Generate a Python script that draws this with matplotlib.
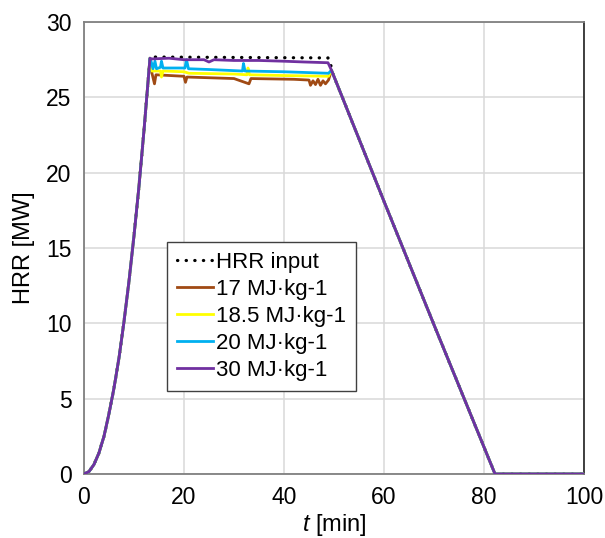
import matplotlib
matplotlib.use("Agg")
import matplotlib.pyplot as plt

plt.rcParams['font.family'] = ['Liberation Sans', 'DejaVu Sans']
plt.rcParams['mathtext.fontset'] = 'custom'
plt.rcParams['mathtext.it'] = 'Liberation Sans:italic'
plt.rcParams['mathtext.rm'] = 'Liberation Sans'

# growth phase (shared by all curves), min / MW
ramp_t = [0, 1, 2, 3, 4, 5, 6, 7, 8, 9, 10, 11, 12, 13.2]
ramp_v = [0, 0.16, 0.63, 1.4, 2.5, 4.0, 5.7, 7.7, 10.1, 12.8, 15.8, 19.1, 22.8, 27.6]

# decay phase (shared)
decay_t = [49.5, 60, 70, 82.2, 100]
decay_v = [26.8, 18.1, 9.9, 0, 0]

# plateau readings per case
input_t = [13.4, 48.8, 49.3]
input_v = [27.68, 27.62, 27.35]

mj30_t = [13.4, 17, 20, 24, 25, 26, 30, 35, 40, 44, 48.8]
mj30_v = [27.55, 27.6, 27.5, 27.5, 27.35, 27.5, 27.45, 27.45, 27.4, 27.35, 27.3]

mj20_t = [13.5, 13.8, 14.2, 14.5, 15.3, 15.5, 15.8, 20.2, 20.5, 20.9, 25, 31.7, 31.9, 32.2, 40, 48.9]
mj20_v = [27.3, 26.9, 27.4, 26.9, 27.0, 27.4, 26.95, 26.95, 27.5, 26.9, 26.85, 26.75, 27.25, 26.75, 26.7, 26.6]

mj185_t = [13.6, 15.3, 15.5, 15.8, 20, 21, 30, 32.6, 32.8, 33.1, 40, 48.9]
mj185_v = [26.75, 26.75, 26.35, 26.75, 26.7, 26.6, 26.55, 26.5, 26.95, 26.5, 26.45, 26.4]

mj17_t = [13.6, 14.1, 14.4, 20, 20.3, 20.6, 30, 33.0, 33.4, 42, 45.0, 45.3, 45.8, 46.3, 46.8, 47.3, 47.8, 48.3, 48.9]
mj17_v = [26.6, 25.9, 26.5, 26.4, 26.0, 26.35, 26.25, 25.9, 26.25, 26.2, 26.15, 25.8, 26.1, 25.85, 26.2, 25.8, 26.1, 25.9, 26.15]

labels = ['HRR input', '17 MJ·kg-1', '18.5 MJ·kg-1', '20 MJ·kg-1', '30 MJ·kg-1']
colors = ['#A04A14', '#FFFF00', '#00B0F0', '#7030A0']

fig = plt.figure(figsize=(6.05, 5.38), dpi=100)
ax = fig.add_axes([0.1388, 0.119, 0.8265, 0.84])

ax.plot(ramp_t + input_t + decay_t, ramp_v + input_v + decay_v, color='black', lw=2.3,
        linestyle=(0, (0.1, 2.6)), dash_capstyle='round', label=labels[0], zorder=2.5)

cases = [(mj17_t, mj17_v), (mj185_t, mj185_v), (mj20_t, mj20_v), (mj30_t, mj30_v)]
for (pt, pv), c, lab in zip(cases, colors, labels[1:]):
    ax.plot(ramp_t + pt + decay_t, ramp_v + pv + decay_v, color=c, lw=2.0, label=lab, zorder=3)

ax.set_xlim(0, 100)
ax.set_ylim(0, 30)
ax.set_xticks([0, 20, 40, 60, 80, 100])
ax.set_yticks([0, 5, 10, 15, 20, 25, 30])
ax.tick_params(length=0, labelsize=16.5, pad=9)
ax.grid(color='#D9D9D9', lw=1.1)
ax.set_axisbelow(True)
for s in ['left', 'bottom', 'top']:
    ax.spines[s].set_color('#808080')
    ax.spines[s].set_linewidth(1.3)
ax.spines['right'].set_color('#303030')
ax.spines['right'].set_linewidth(1.3)

ax.set_xlabel('$t$ [min]', fontsize=17, labelpad=2)
ax.set_ylabel('HRR [MW]', fontsize=17, labelpad=8)

leg = ax.legend(loc='upper left', bbox_to_anchor=(0.166, 0.513), fontsize=16,
                fancybox=False, edgecolor='#404040', framealpha=1, handlelength=1.6,
                handletextpad=0.15, borderpad=0.45, labelspacing=0.27, borderaxespad=0)
leg.get_frame().set_linewidth(1.0)

fig.savefig('out.png', dpi=100)
